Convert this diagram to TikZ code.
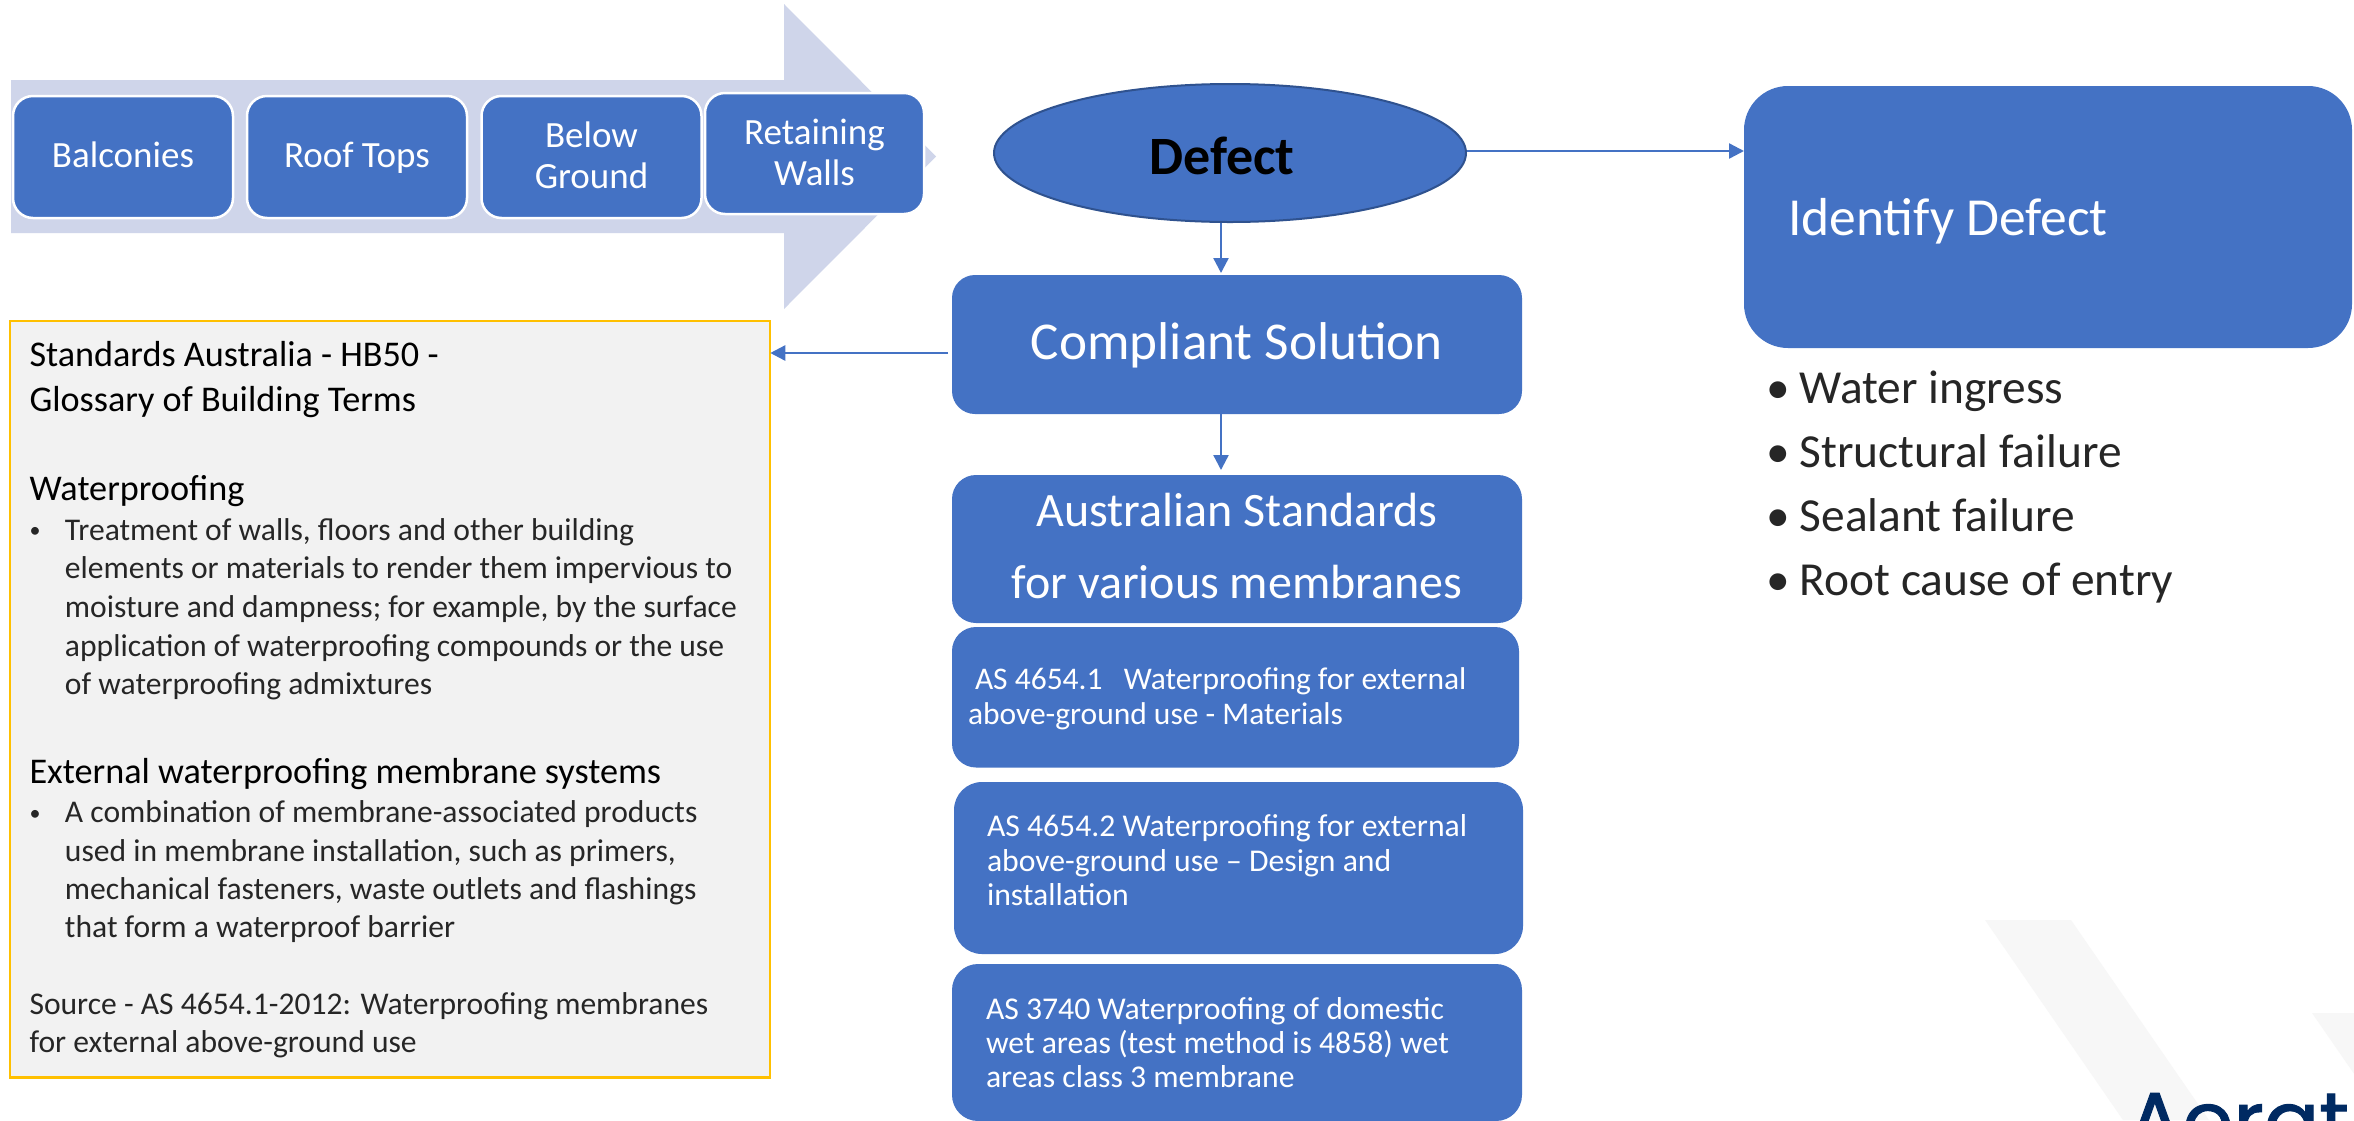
\documentclass[tikz,border=0pt]{standalone}
\usepackage{fontspec}
\setmainfont{Carlito}
\newfontfamily\logofont[FakeBold=1.2]{Poppins}
\usetikzlibrary{arrows.meta,shapes.geometric}
\definecolor{blu}{HTML}{4472C4}
\definecolor{blubd}{HTML}{2F528F}
\definecolor{pale}{HTML}{CFD5EA}
\definecolor{glossbg}{HTML}{F2F2F2}
\definecolor{glossbd}{HTML}{FFC000}
\definecolor{wm}{HTML}{F7F7F7}
\definecolor{navy}{HTML}{002A62}
\definecolor{lighttext}{HTML}{262626}
\newcommand\fs[2]{\fontsize{#1pt}{#2pt}\selectfont}
\newcommand\blk[2]{\parbox[t]{#1pt}{\parindent=0pt\parskip=0pt #2}}
\newcommand\smallbul{\makebox[35.5pt][l]{\raisebox{2.5pt}{\fontsize{22pt}{22pt}\selectfont •}}}
\tikzset{
  bluebox/.style={rectangle,fill=blu,text=white,inner sep=0pt,outer sep=0pt},
  chip/.style={bluebox,draw=white,line width=2.5pt,rounded corners=20pt,minimum height=122pt},
  flat/.style={bluebox,draw=none},
  link/.style={draw=blu,line width=2.4pt,-{Triangle[length=15pt,width=15pt]}},
  wmband/.style={fill=wm,draw=none}
}
\begin{document}
\begin{tikzpicture}[x=1pt,y=-1pt]
\useasboundingbox (0,0) rectangle (2354,1120);
\begin{scope}
\clip (0,0) rectangle (2354,1120);
\fill[white] (0,0) rectangle (2354,1120);
\fill[wmband] (1985,920) -- (2071,920) -- (2209,1120) -- (2123,1120) -- cycle;
\fill[wmband] (2312,1013) -- (2420,1013) -- (2420,1120) -- (2386,1120) -- cycle;
\node[anchor=base west,inner sep=0pt,text=navy] (logo) at (2127,1150) {\logofont\fs{82}{82}Aerat};
\fill[pale] (11,80) -- (784,80) -- (784,4) -- (936,156.5) -- (784,309) -- (784,233) -- (11,233) -- cycle;

\node[chip,minimum width=220pt,text height=20pt,text depth=0pt] (bal) at (123,157) {\fs{37}{41}Balconies};
\node[chip,minimum width=220pt,text height=20pt,text depth=0pt] (roof) at (357,157) {\fs{37}{41}Roof Tops};
\node[chip,minimum width=220pt,text height=0pt,text depth=20pt] (below) at (591.5,157) {\blk{200}{\centering\fs{37}{41}Below\\Ground}};
\node[chip,minimum width=219pt,minimum height=121pt,text height=0pt,text depth=19pt] (ret) at (814.5,153.5) {\blk{200}{\centering\fs{37}{41}Retaining\\Walls}};

\node[ellipse,fill=blu,draw=blubd,line width=2pt,inner sep=0pt,minimum width=472pt,minimum height=138pt,text=black,text height=42pt,text depth=0pt] (defect) at (1230,153) {\fs{54}{60}\bfseries Defect\hspace*{16pt}};

\node[flat,rounded corners=23pt,minimum width=570pt,minimum height=139pt,text height=29pt,text depth=0pt] (comp) at (1237,344.5) {\fs{53.2}{60}Compliant Solution};
\node[flat,rounded corners=24pt,minimum width=570pt,minimum height=148pt,text height=0pt,text depth=46pt] (aus) at (1237,549) {\blk{560}{\centering\fs{48}{72}Australian Standards\\for various membranes}};
\node[flat,rounded corners=24pt,minimum width=567pt,minimum height=140.5pt,text height=0pt,text depth=15.3pt] (as1) at (1235.5,697.25) {\blk{535}{\fs{31.5}{34.8}\hspace*{7pt}AS 4654.1\ \ \ Waterproofing for external\\above-ground use - Materials}};
\node[flat,rounded corners=28pt,minimum width=569pt,minimum height=172pt,text height=0pt,text depth=63pt] (as2) at (1238.5,868) {\blk{503}{\fs{31.7}{34.5}AS 4654.2 Waterproofing for external\\above-ground use -- Design and\\installation}};
\node[flat,rounded corners=26pt,minimum width=570pt,minimum height=157pt,text height=0pt,text depth=47pt] (as3) at (1237,1042.5) {\blk{502}{\fs{31.7}{34.4}AS 3740 Waterproofing of domestic\\wet areas (test method is 4858) wet\\areas class 3 membrane}};

\node[flat,rounded corners=44pt,minimum width=608pt,minimum height=262pt,text height=36pt,text depth=0pt] (ident) at (2048,217) {\blk{520}{\fs{53.5}{60}Identify Defect}};

\node[anchor=base west,inner sep=0pt,text=lighttext] (causes) at (1766,403) {\blk{500}{\fs{47.4}{64}%
\hangindent=33.5pt\hangafter=1\makebox[33.5pt][l]{•}Water ingress\par
\hangindent=33.5pt\hangafter=1\makebox[33.5pt][l]{•}Structural failure\par
\hangindent=33.5pt\hangafter=1\makebox[33.5pt][l]{•}Sealant failure\par
\hangindent=33.5pt\hangafter=1\makebox[33.5pt][l]{•}Root cause of entry}};

\node[rectangle,fill=glossbg,draw=glossbd,line width=2.5pt,inner sep=0pt,minimum width=760pt,minimum height=756.5pt,text height=0pt,text depth=666.5pt] (gloss) at (390,699.25) {\blk{721}{%
\fs{36.2}{45}Standards Australia - HB50 -\\Glossary of Building Terms\par
\vspace{44.5pt}Waterproofing\par
\vspace{1.1pt}\color{lighttext}\fs{31.6}{38.6}\hangindent=35.5pt\hangafter=1\smallbul Treatment of walls, floors and other building\\elements or materials to render them impervious to\\moisture and dampness; for example, by the surface\\application of waterproofing compounds or the use\\of waterproofing admixtures\par
\vspace{44.1pt}\color{black}\fs{36.2}{45}External waterproofing membrane systems\par
\vspace{0.5pt}\color{lighttext}\fs{31.6}{38.4}\hangindent=35.5pt\hangafter=1\smallbul A combination of membrane-associated products\\used in membrane installation, such as primers,\\mechanical fasteners, waste outlets and flashings\\that form a waterproof barrier\par
\vspace{38.2pt}Source - AS 4654.1-2012: Waterproofing membranes\\for external above-ground use}};

\draw[link] ([yshift=2pt]defect.east) -- ([yshift=2pt]defect.east -| ident.west);
\draw[link,shorten >=2pt] ([xshift=-9pt]defect.south) -- ([xshift=-16pt]comp.north);
\draw[link,shorten >=5pt] ([xshift=-16pt]comp.south) -- ([xshift=-16pt]aus.north);
\draw[link,shorten <=4pt,shorten >=-1pt] ([yshift=-8.5pt]comp.west) -- ([yshift=-8.5pt]comp.west -| gloss.east);
\end{scope}
\end{tikzpicture}
\end{document}
